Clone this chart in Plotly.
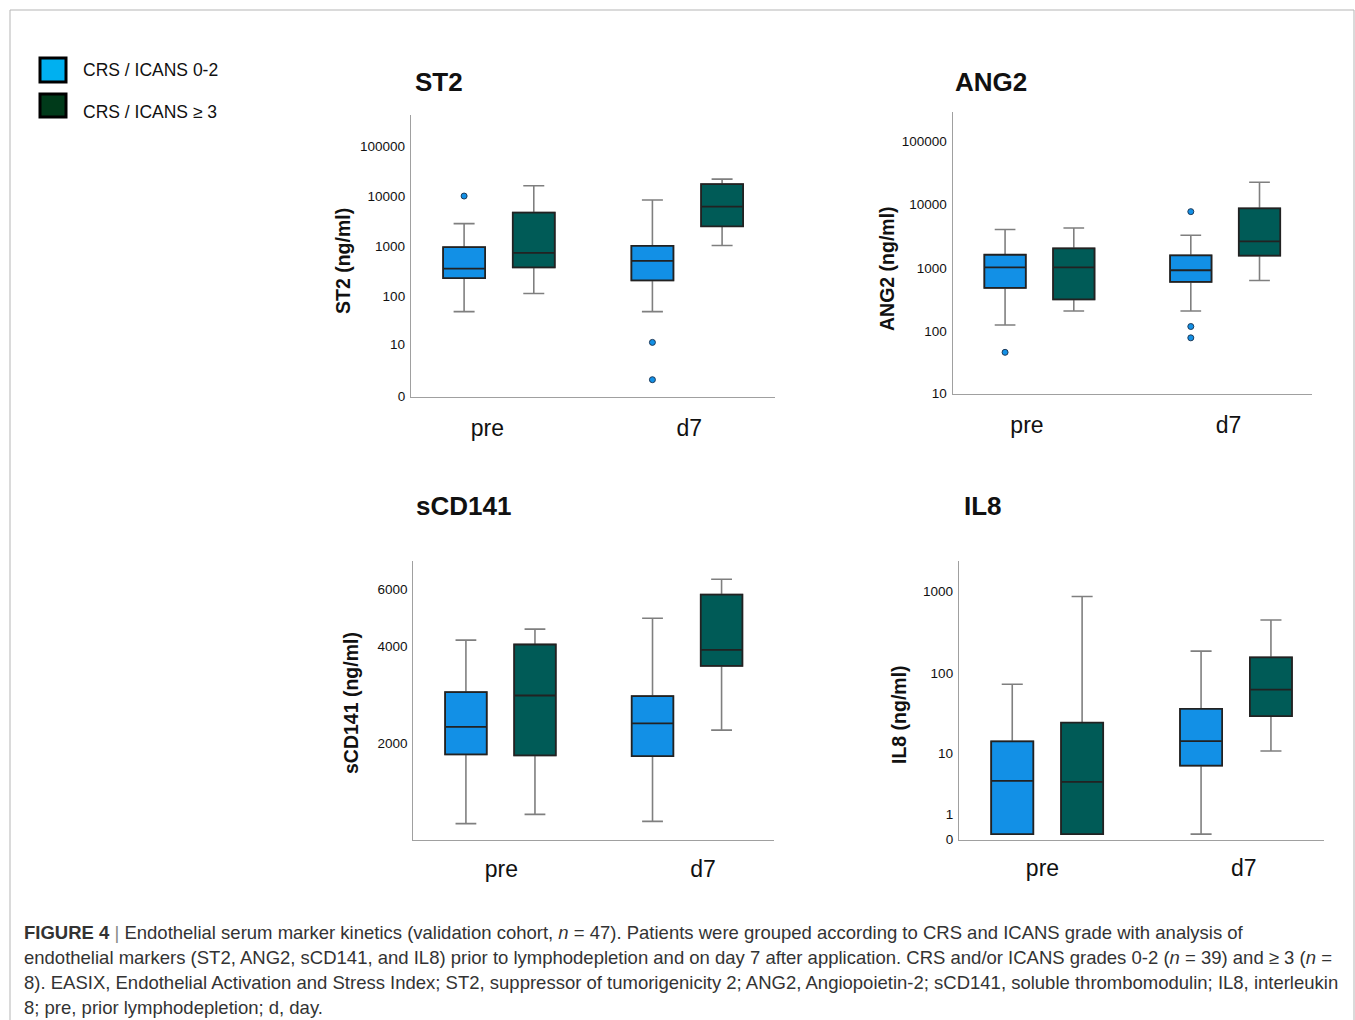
import plotly.graph_objects as go

W, H = 1355, 1020

# ---------------- data ----------------
groups = ["CRS / ICANS 0-2", "CRS / ICANS \u2265 3"]
timepoints = ["pre", "d7"]

# each entry: [lowerfence, q1, median, q3, upperfence] for (pre-low, pre-high, d7-low, d7-high)
st2_stats = [
    [48, 228, 351, 946, 2800],
    [112, 372, 731, 4637, 15960],
    [48, 205, 506, 1008, 8290],
    [1022, 2475, 6100, 17260, 21700],
]
st2_outliers = [[9950], [], [10.9, 1.14], []]
st2_ticks = [0, 10, 100, 1000, 10000, 100000]

ang2_stats = [
    [128, 492, 1035, 1630, 4055],
    [213, 323, 1035, 2050, 4295],
    [213, 611, 930, 1595, 3300],
    [641, 1574, 2636, 8710, 22400],
]
ang2_outliers = [[47], [], [7740, 121, 80], []]
ang2_ticks = [10, 100, 1000, 10000, 100000]

scd141_stats = [
    [1124, 1843, 2244, 2874, 4165],
    [1201, 1829, 2806, 4038, 4506],
    [1142, 1820, 2298, 2793, 4872],
    [2191, 3467, 3887, 5768, 6437],
]
scd141_outliers = [[], [], [], []]
scd141_ticks = [2000, 4000, 6000]

il8_stats = [
    [0.149, 0.149, 4.04, 14.2, 73.3],
    [0.149, 0.149, 3.91, 24.5, 854],
    [0.149, 6.72, 14.3, 36.5, 186],
    [10.6, 29.6, 63.1, 156, 443],
]
il8_outliers = [[], [], [], []]
il8_ticks = [0, 1, 10, 100, 1000]

# ---------------- styling ----------------
box_fill = ["#1290E6", "#005B57"]
legend_fill = ["#00B0F0", "#003A1A"]
whisker_col = "#7f7f7f"
box_line = "#222222"
axis_col = "#a0a0a0"
FONT = "Liberation Sans, Arial, Helvetica, sans-serif"

def px_x(x):
    return x / W

def px_y(y):
    return 1 - y / H

fig = go.Figure()

panels = [
    dict(title="ST2", ylab="ST2 (ng/ml)", stats=st2_stats, out=st2_outliers, ticks=st2_ticks, p1=True,
         xd=(411, 775), yd=(396.5, 115), yr=(-0.005, 5.616), tpos=(413, 82), lpos=(343, 261),
         xt=(-0.061, 1.011), sto=11),
    dict(title="ANG2", ylab="ANG2 (ng/ml)", stats=ang2_stats, out=ang2_outliers, ticks=ang2_ticks, p1=True,
         xd=(952.7, 1311.7), yd=(393.5, 111.7), yr=(1.035, 5.457), tpos=(953, 82), lpos=(887, 269),
         xt=(-0.067, 1.018), sto=11),
    dict(title="sCD141", ylab="sCD141 (ng/ml)", stats=scd141_stats, out=scd141_outliers, ticks=scd141_ticks, p1=False,
         xd=(413.3, 774), yd=(840, 560.7), yr=(3.0, 3.866), tpos=(414, 506), lpos=(351, 703),
         xt=(0.005, 1.086), sto=8),
    dict(title="IL8", ylab="IL8 (ng/ml)", stats=il8_stats, out=il8_outliers, ticks=il8_ticks, p1=True,
         xd=(959, 1324), yd=(839.5, 561), yr=(-0.005, 3.361), tpos=(962, 506), lpos=(899, 715),
         xt=(-0.025, 1.041), sto=8),
]

offset = 0.185
bw = 0.223
annotations = []
layout_axes = {}

for i, p in enumerate(panels):
    n = i + 1
    xa = "x" if n == 1 else f"x{n}"
    ya = "y" if n == 1 else f"y{n}"
    add = 1 if p["p1"] else 0
    for k, st in enumerate(p["stats"]):
        t = k // 2
        g = k % 2
        pos = t + (-offset if g == 0 else offset)
        lf, q1, med, q3, uf = [v + add for v in st]
        # whiskers + box (grey)
        fig.add_trace(go.Box(
            x=[pos], q1=[q1], median=[med], q3=[q3], lowerfence=[lf], upperfence=[uf],
            width=bw, whiskerwidth=0.5, fillcolor=box_fill[g],
            line=dict(color=whisker_col, width=1.6), boxpoints=False,
            xaxis=xa, yaxis=ya, showlegend=False, hoverinfo="skip"))
        # box outline + median (dark)
        fig.add_trace(go.Box(
            x=[pos], q1=[q1], median=[med], q3=[q3], lowerfence=[q1], upperfence=[q3],
            width=bw, whiskerwidth=0, fillcolor=box_fill[g],
            line=dict(color=box_line, width=1.8), boxpoints=False,
            xaxis=xa, yaxis=ya, showlegend=False, hoverinfo="skip"))
        outs = p["out"][k]
        if outs:
            fig.add_trace(go.Scatter(
                x=[pos] * len(outs), y=[v + add for v in outs], mode="markers",
                marker=dict(size=6, color=box_fill[g], line=dict(color="#1d3a5a", width=1)),
                xaxis=xa, yaxis=ya, showlegend=False, hoverinfo="skip"))

    xkey = "xaxis" if n == 1 else f"xaxis{n}"
    ykey = "yaxis" if n == 1 else f"yaxis{n}"
    layout_axes[xkey] = dict(
        domain=[px_x(p["xd"][0]), px_x(p["xd"][1])], anchor=ya,
        range=[-0.467, 1.466], tickvals=list(p["xt"]), ticktext=timepoints,
        showline=True, linecolor=axis_col, linewidth=1.3, showgrid=False, zeroline=False,
        ticks="", ticklabelstandoff=p["sto"], automargin=False,
        tickfont=dict(family=FONT, size=23, color="#111"), fixedrange=True)
    layout_axes[ykey] = dict(
        domain=[px_y(p["yd"][0]), px_y(p["yd"][1])], anchor=xa, type="log",
        range=list(p["yr"]), tickvals=[v + add for v in p["ticks"]],
        ticktext=[str(v) for v in p["ticks"]],
        showline=True, linecolor=axis_col, linewidth=1.3, showgrid=False, zeroline=False,
        ticks="", ticklabelstandoff=2, automargin=False,
        tickfont=dict(family=FONT, size=13.5, color="#111"), fixedrange=True)

    annotations.append(dict(
        text=f"<b>{p['title']}</b>", x=px_x(p["tpos"][0]), y=px_y(p["tpos"][1]),
        xref="paper", yref="paper", xanchor="left", yanchor="middle", showarrow=False,
        font=dict(family=FONT, size=26, color="#111")))
    annotations.append(dict(
        text=f"<b>{p['ylab']}</b>", x=px_x(p["lpos"][0]), y=px_y(p["lpos"][1]),
        xref="paper", yref="paper", xanchor="center", yanchor="middle", showarrow=False,
        textangle=-90, font=dict(family=FONT, size=19.5, color="#111")))

# legend (drawn manually to match)
shapes = []
legend_rows = [(57, 83, 70.5), (93, 118, 111.5)]
for g, (y0, y1, ty) in enumerate(legend_rows):
    shapes.append(dict(type="rect", xref="paper", yref="paper",
                       x0=px_x(40), x1=px_x(66), y0=px_y(y1 - 1), y1=px_y(y0 + 1),
                       fillcolor=legend_fill[g], line=dict(color="#000", width=3)))
    annotations.append(dict(
        text=groups[g], x=px_x(81), y=px_y(ty), xref="paper", yref="paper",
        xanchor="left", yanchor="middle", showarrow=False,
        font=dict(family=FONT, size=17.5, color="#111")))

# frame
shapes.append(dict(type="rect", xref="paper", yref="paper",
                   x0=px_x(10), x1=px_x(1354), y0=px_y(1030), y1=px_y(10),
                   fillcolor="rgba(0,0,0,0)", line=dict(color="#b5b5b5", width=1)))

caption = [
    "<b>FIGURE 4</b> <span style='color:#888'>|</span> Endothelial serum marker kinetics (validation cohort, <i>n</i> = 47). Patients were grouped according to CRS and ICANS grade with analysis of",
    "endothelial markers (ST2, ANG2, sCD141, and IL8) prior to lymphodepletion and on day 7 after application. CRS and/or ICANS grades 0-2 (<i>n</i> = 39) and \u2265 3 (<i>n</i> =",
    "8). EASIX, Endothelial Activation and Stress Index; ST2, suppressor of tumorigenicity 2; ANG2, Angiopoietin-2; sCD141, soluble thrombomodulin; IL8, interleukin",
    "8; pre, prior lymphodepletion; d, day.",
]
for j, line in enumerate(caption):
    annotations.append(dict(
        text=line, x=px_x(22), y=px_y(932 + 25 * j), xref="paper", yref="paper",
        xanchor="left", yanchor="middle", showarrow=False,
        font=dict(family=FONT, size=18.5, color="#333")))

fig.update_layout(
    width=W, height=H, margin=dict(l=0, r=0, t=0, b=0, pad=0, autoexpand=False),
    paper_bgcolor="white", plot_bgcolor="white",
    showlegend=False, boxmode="overlay",
    annotations=annotations, shapes=shapes,
    font=dict(family=FONT),
    **layout_axes,
)

fig.write_html("out.html", config={"displayModeBar": False})
